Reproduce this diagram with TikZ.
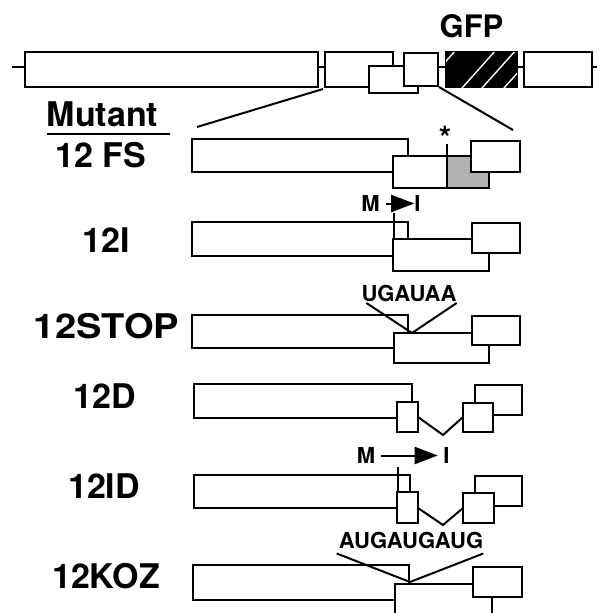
\documentclass[tikz,border=0pt]{standalone}
\usepackage{fontspec}
\usepackage{graphicx}
\setmainfont{TeX Gyre Heros}
\usetikzlibrary{arrows.meta}

\begin{document}
\begin{tikzpicture}[x=1pt, y=-1pt,
    exo/.style={draw, line width=2pt, fill=white},
    linia/.style={line width=2pt},
    etiq/.style={font=\fontsize{34}{40}\selectfont\bfseries, inner sep=0pt},
    petit/.style={font=\fontsize{22}{26}\selectfont\bfseries, inner sep=0pt},
    fletxa/.style={line width=2pt, -{Triangle[length=23pt,width=17pt]}}]

\useasboundingbox (0,0) rectangle (600,613);
\fill[white] (0,0) rectangle (600,613);
\clip (0,0) rectangle (600,613);

% Gen complet
\draw[linia] (12,67) -- (597,67);
\draw[exo] (25,52) rectangle (318,87);
\draw[exo] (325,52) rectangle (393,87);
\draw[exo] (369,66) rectangle (418,93);
\draw[exo] (404,53) rectangle (438,86);
\draw[exo, fill=black] (446,52) rectangle (517,87);
\begin{scope}
  \clip (446,52) rectangle (517,87);
  \foreach \xb in {422,462,482,504}
    \draw[white, line width=1.4pt] (\xb,88) -- (\xb+34,50);
\end{scope}
\draw[exo] (524,52) rectangle (592,87);
\node[etiq, font=\fontsize{31}{36}\selectfont\bfseries] (gfp) at (471.5,26) {GFP};

% Ampliacio
\coordinate (ea) at (323,89);
\coordinate (eb) at (197,127);
\coordinate (ec) at (439,87);
\coordinate (ed) at (513,130);
\draw[linia] (ea) -- (eb);
\draw[linia] (ec) -- (ed);

% Titol
\node[etiq] (mutant) at (102.5,114) {Mutant};
\draw[line width=2.8pt] (47,134) -- (170,134);

% 12 FS
\node[etiq] (fs) at (101,155.5) {12 FS};
\draw[exo] (192,139) rectangle (408,172);
\draw[exo] (393,156) rectangle (447,188);
\draw[exo, fill=gray!60] (447,156) rectangle (489,188);
\draw[exo] (471,141) rectangle (520,172);
\draw[linia] (447,144) -- (447,156);
\node[inner sep=0pt, font=\fontsize{32}{36}\selectfont\bfseries, anchor=north] (estel) at (445,126) {*};

% 12I
\node[etiq] (ia) at (106,240) {12I};
\draw[exo] (192,222) rectangle (408,256);
\draw[exo] (393,239) rectangle (489,271);
\draw[exo] (472,223) rectangle (520,253);
\draw[linia] (394,213) -- (394,239);
\node[petit] (m1) at (370.5,203.5) {M};
\node[petit] (i1) at (417.5,203.5) {I};
\draw[fletxa, shorten <=6pt] (m1) -- (i1);

% 12STOP
\node[etiq] (stop) at (106.5,326) {\scalebox{1.12}[1]{12STOP}};
\draw[exo] (192,315) rectangle (408,348);
\draw[exo] (394,333) rectangle (489,363);
\draw[exo] (472,316) rectangle (520,345);
\node[petit] (ugauaa) at (409,293.5) {UGAUAA};
\coordinate (pstop) at (412,333);
\draw[linia] ([xshift=5pt,yshift=-1pt]ugauaa.south west) -- (pstop)
  -- ([yshift=-1pt]ugauaa.south east);

% 12D
\node[etiq] (d) at (105,396) {12D};
\draw[exo] (194,384) rectangle (412,418);
\draw[exo] (475,385) rectangle (522,415);
\draw[exo] (397,402) rectangle (418,432);
\draw[exo] (463,403) rectangle (493,432);
\draw[linia] (418,417) -- (443,435) -- (463,417);

% 12ID
\node[etiq] (id) at (104,486) {12ID};
\draw[exo] (194,475) rectangle (410,508);
\draw[exo] (475,476) rectangle (522,506);
\draw[exo] (397,492) rectangle (418,523);
\draw[exo] (463,493) rectangle (494,523);
\draw[linia] (418,508) -- (443,525) -- (463,508);
\draw[linia] (398,467) -- (398,492);
\node[petit] (m2) at (366,455.5) {M};
\node[petit] (i2) at (446.5,455.5) {I};
\draw[fletxa, shorten <=6pt, shorten >=5.5pt] (m2) -- (i2);

% 12KOZ
\node[etiq] (koz) at (106,576) {12KOZ};
\draw[exo] (193,565) rectangle (409,600);
\draw[exo] (395,584) rectangle (492,630);
\draw[exo] (473,567) rectangle (522,597);
\node[petit] (aug) at (411,540) {AUGAUGAUG};
\coordinate (pkoz) at (410,582);
\draw[linia] ([xshift=-2pt,yshift=-5pt]aug.south west) -- (pkoz)
  -- ([yshift=-5pt]aug.south east);

\end{tikzpicture}
\end{document}
